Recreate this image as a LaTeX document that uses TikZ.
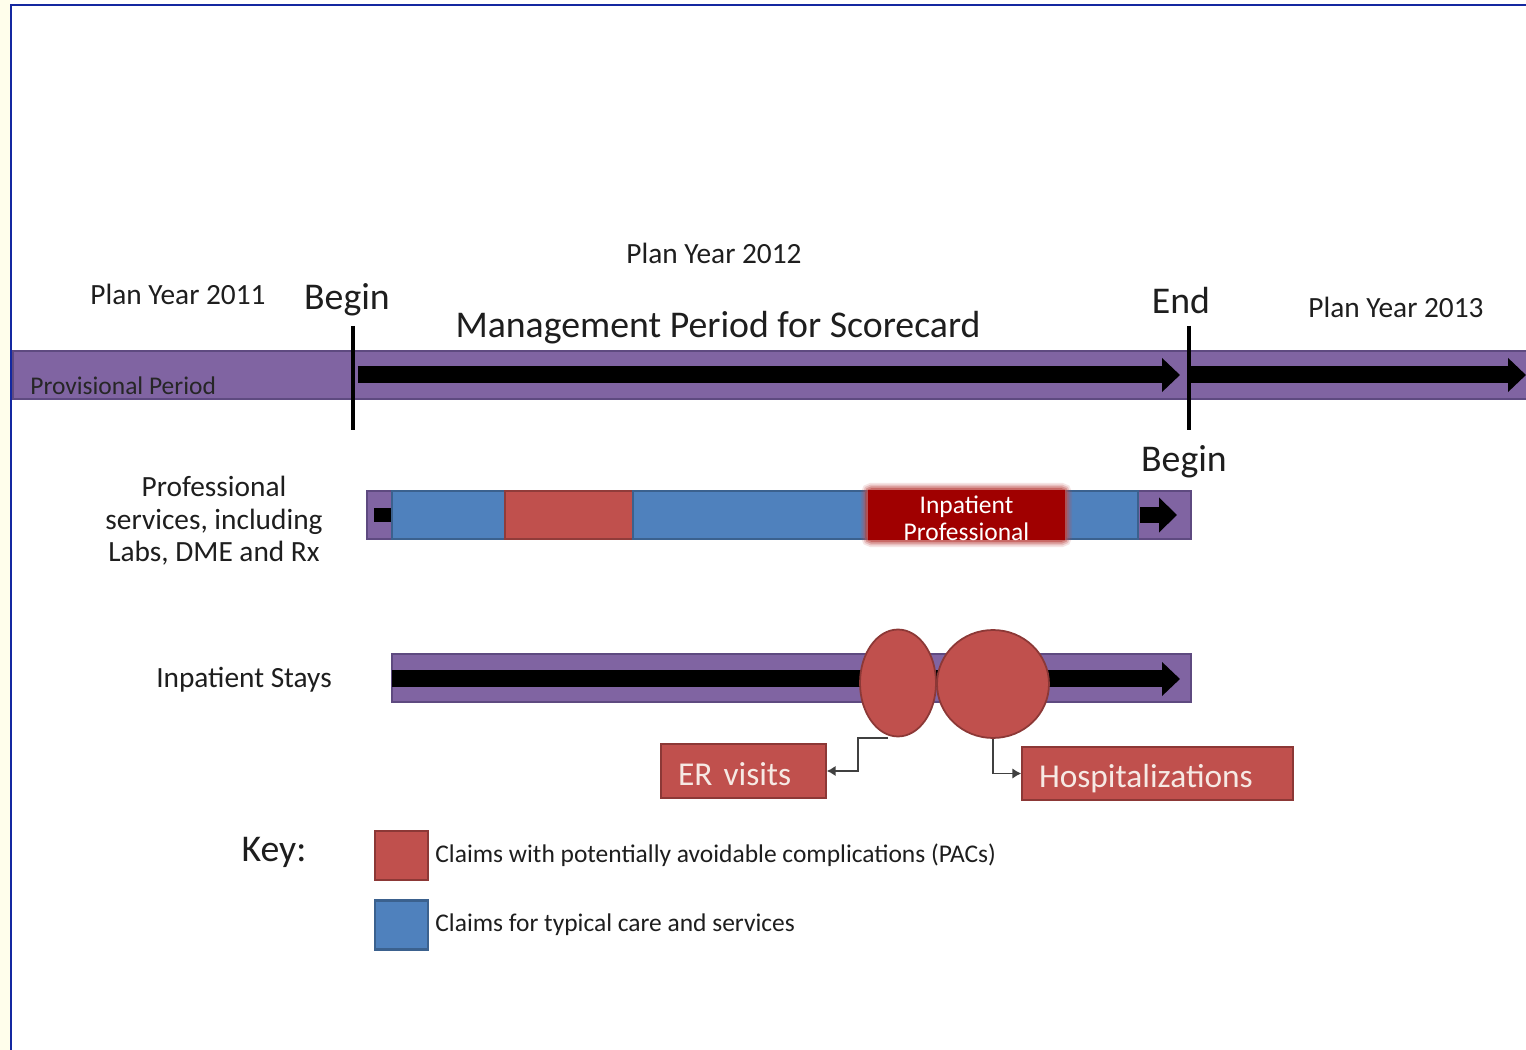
\documentclass[tikz,border=0pt]{standalone}
\usepackage{fontspec}
\setmainfont{Carlito}
\usetikzlibrary{arrows.meta,shapes.geometric,positioning}
\definecolor{barpurple}{HTML}{8064A2}
\definecolor{barpurpleline}{HTML}{5E4A80}
\definecolor{claimblue}{HTML}{4F81BD}
\definecolor{pacred}{HTML}{C0504D}
\definecolor{pacredline}{HTML}{8C3836}
\definecolor{inpred}{HTML}{A00000}
\definecolor{frameblue}{HTML}{1428A0}
\definecolor{textgray}{HTML}{1E1E1E}
\definecolor{boxtext}{HTML}{F6E9E4}
\tikzset{
  bar/.style={fill=barpurple, draw=barpurpleline, line width=0.8pt},
  bigarrow/.style={line width=0.34cm, -{Triangle[length=0.36cm,width=0.66cm]}},
  tick/.style={line width=2pt},
  label/.style={inner sep=0pt, text=textgray, align=center},
  big/.style={font=\fontsize{21.5}{25}\selectfont},
  mid/.style={font=\fontsize{16.7}{19.5}\selectfont},
  small/.style={font=\fontsize{14.5}{17}\selectfont},
  pacbox/.style={fill=pacred, draw=pacredline, line width=1pt, text=boxtext,
    font=\fontsize{19}{22}\selectfont, inner ysep=0pt, inner xsep=0.34cm, align=left},
  blob/.style={ellipse, fill=pacred, draw=pacredline, line width=1pt, inner sep=0pt},
  keybox/.style={draw, line width=1.2pt, minimum width=1.06cm, minimum height=0.98cm, inner sep=0pt},
  conn/.style={draw=black!75, line width=0.9pt, -{Latex[length=5pt,width=6pt]}}
}
\begin{document}
\begin{tikzpicture}[x=0.02cm, y=-0.02cm]
\useasboundingbox (0,0) rectangle (1526,1050);
\fill[white] (0,0) rectangle (1526,1050);
\fill[yellow!8!white] (0,0) rectangle (10,1050);
\draw[frameblue, line width=1.3pt] (11,1050) -- (11,5) -- (1526,5);

% top time line
\draw[bar] (13,351) rectangle (1530,399);
\node[label, anchor=west, small, text=black!85] (prov) at (30,386) {Provisional Period};
\draw[bigarrow] (358,375) -- (1180,375);
\draw[bigarrow] (1190,375) -- (1526,375);
\coordinate (t1a) at (353,326); \coordinate (t1b) at (353,430);
\coordinate (t2a) at (1189,326); \coordinate (t2b) at (1189,430);
\draw[tick] (t1a) -- (t1b);
\draw[tick] (t2a) -- (t2b);

\node[label, mid] (py11) at (178,294) {Plan Year 2011};
\node[label, mid] (py12) at (714,253) {Plan Year 2012};
\node[label, mid] (py13) at (1396,307) {Plan Year 2013};
\node[label, big] (begin1) at (347,300) {Begin};
\node[label, big] (mgmt) at (718,328) {Management Period for Scorecard};
\node[label, big] (end) at (1181,301) {End};
\node[label, big] (begin2) at (1184,462) {Begin};

% professional services
\node[label, mid] (prof) at (214,521) {Professional\\[-1pt]services, including\\[-1pt]Labs, DME and Rx};
\draw[bar] (367,491) rectangle (1191,539);
\foreach \a/\b/\c in {392/505/claimblue, 505/633/pacred, 633/866/claimblue, 1066/1138/claimblue}
  \draw[fill=\c, draw=\c!75!black, line width=0.8pt] (\a,491) rectangle (\b,539);
\fill[black] (374,508) rectangle (391,522);
\draw[line width=0.32cm, -{Triangle[length=0.36cm,width=0.68cm]}] (1140,515) -- (1177,515);
\foreach \w/\o in {8pt/0.15, 6pt/0.25, 4pt/0.4, 2pt/0.6}
  \draw[pacred, line width=\w, opacity=\o, rounded corners=2pt] (868,490) rectangle (1065,540);
\node[fill=inpred, minimum width=3.94cm, minimum height=1.0cm, inner sep=0pt,
  text=white, small, align=center] (inprof) at (966.5,515)
  {\raisebox{-1.7pt}[\height][\depth]{\shortstack{Inpatient\\Professional}}};

% inpatient stays
\node[label, mid] (stays) at (244,680) {Inpatient Stays};
\draw[bar] (392,654) rectangle (1191,702);
\draw[bigarrow] (392,679) -- (1180,679);
\node[blob, minimum width=1.52cm, minimum height=2.14cm] (er1) at (898,683) {};
\node[blob, minimum width=2.24cm, minimum height=2.16cm] (hosp1) at (993,684) {};

\node[pacbox, text width=2.62cm, minimum height=1.08cm] (er) at (743.5,771)
  {\raisebox{-1.7pt}[\height][\depth]{ER visits}};
\node[pacbox, text width=4.74cm, minimum height=1.06cm] (hosp) at (1157.5,773.5)
  {\raisebox{-3pt}[\height][\depth]{Hospitalizations}};
\draw[conn] (888,738) -| (858,771) -- (er.east);
\draw[conn] (hosp1.south) |- (hosp.west);

% key
\node[label, big] (key) at (274,852) {Key:};
\node[keybox, fill=pacred, draw=pacredline] (keypac) at (401.5,855.5) {};
\node[keybox, fill=claimblue, draw=claimblue!75!black] (keytyp) at (401.5,925) {};
\node[label, small, anchor=west, right=0.12cm of keypac] (pactxt) {Claims with potentially avoidable complications (PACs)};
\node[label, small, anchor=west, right=0.12cm of keytyp] (typtxt) {Claims for typical care and services};
\end{tikzpicture}
\end{document}
